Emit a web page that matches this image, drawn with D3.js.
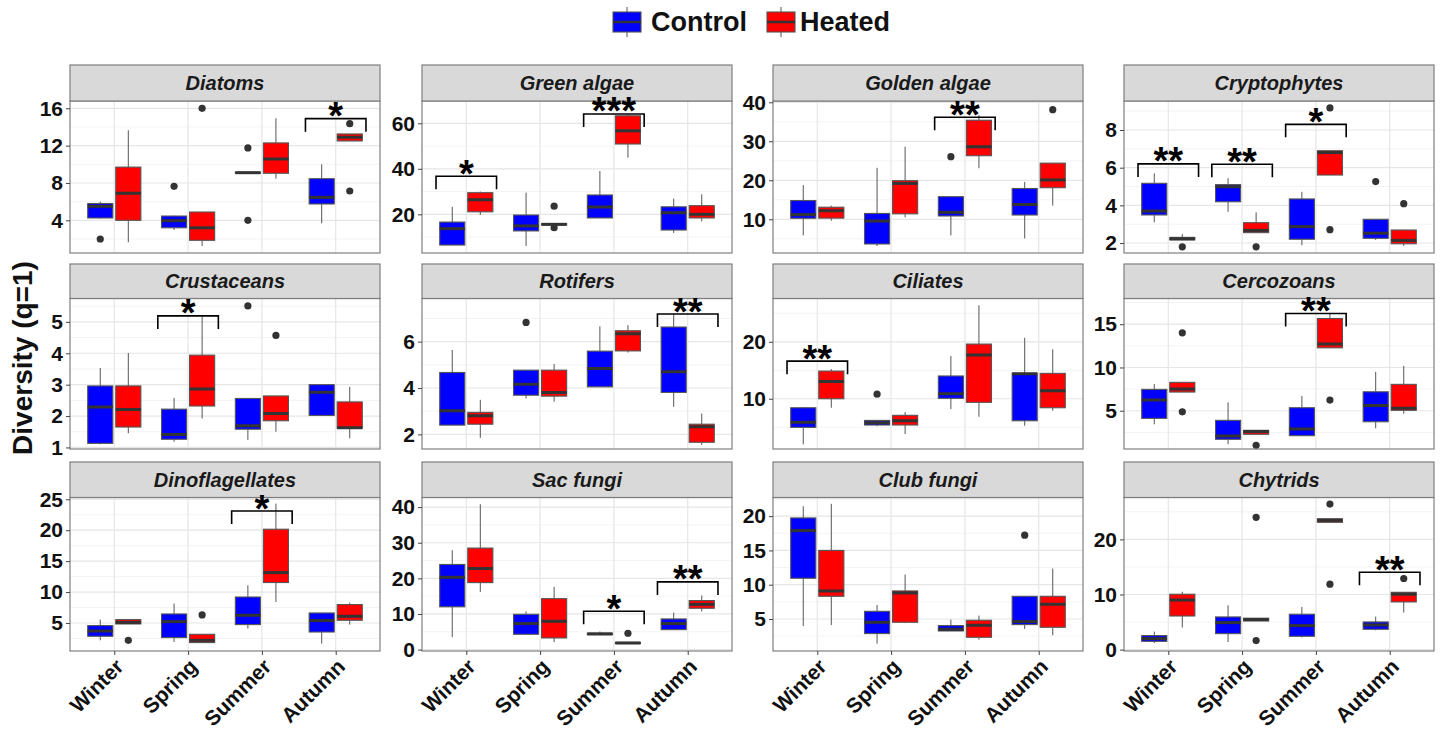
<!DOCTYPE html>
<html><head><meta charset="utf-8">
<script src="https://cdn.jsdelivr.net/npm/d3@7"></script>
<style>
body{margin:0;background:#fff;}
svg{display:block;font-family:"Liberation Sans",Arial,sans-serif;}
</style>
</head><body>
<svg id="c" width="1440" height="730"></svg>
<script>
// ---------------- DATA ----------------
const seasons = ["Winter", "Spring", "Summer", "Autumn"];
const groups = ["Control", "Heated"];
const groupColors = ["#0000ff", "#ff0000"];
const taxa = ["Diatoms", "Green algae", "Golden algae", "Cryptophytes",
  "Crustaceans", "Rotifers", "Ciliates", "Cercozoans",
  "Dinoflagellates", "Sac fungi", "Club fungi", "Chytrids"];

// box stats per taxon, order: Winter C, Winter H, Spring C, Spring H, Summer C, Summer H, Autumn C, Autumn H
// [lower whisker, q1, median, q3, upper whisker]
const diatoms = [[4.2,4.25,5.5,5.8,6.0],[1.65,4.0,6.9,9.7,13.65],[2.96,3.2,3.96,4.46,4.5],[1.25,1.86,3.2,4.89,4.89],[9.05,9.05,9.1,9.15,9.15],[8.46,9.04,10.57,12.29,14.93],[3.68,5.75,6.46,8.46,10.0],[12.5,12.5,12.9,13.25,13.25]];
const greenAlgae = [[6.5,6.5,13.7,16.6,23.3],[19.7,21.1,26.4,29.5,30.0],[6.1,12.7,14.9,19.7,29.5],[15.3,15.3,15.6,15.9,15.9],[18.4,18.4,23.2,28.5,39.0],[44.9,50.9,56.7,63.3,63.8],[11.8,13.1,20.7,23.3,26.9],[16.9,18.4,20.0,23.8,28.8]];
const goldenAlgae = [[5.9,10.26,11.2,14.8,18.8],[9.64,10.3,12.2,13.1,13.5],[3.15,3.67,9.56,11.5,23.2],[10.5,11.4,19.2,19.9,28.6],[5.9,10.85,11.8,15.8,15.8],[23.1,26.3,28.6,35.4,36.7],[5.1,11.1,13.8,17.9,19.6],[13.5,18.1,20.1,24.4,24.4]];
const cryptophytes = [[3.1,3.49,3.7,5.17,5.7],[2.17,2.17,2.22,2.3,2.48],[3.66,4.19,4.99,5.1,5.44],[2.55,2.55,2.67,3.08,3.63],[1.88,2.2,2.87,4.34,4.72],[5.61,5.61,6.8,6.9,6.9],[2.16,2.25,2.52,3.26,3.26],[1.85,1.96,2.14,2.69,2.69]];
const crustaceans = [[1.1,1.13,2.29,2.96,3.53],[1.45,1.65,2.21,2.96,4.01],[1.18,1.26,1.41,2.22,2.58],[1.92,2.32,2.86,3.94,5.16],[1.24,1.58,1.69,2.56,2.56],[1.5,1.85,2.08,2.64,2.64],[2.02,2.02,2.76,3.0,3.0],[1.29,1.61,1.63,2.45,2.93]];
const rotifers = [[2.4,2.4,3.02,4.67,5.64],[1.85,2.44,2.8,2.95,3.49],[3.55,3.69,4.16,4.77,4.77],[3.41,3.65,3.81,4.77,5.03],[4.05,4.05,4.84,5.59,6.66],[5.53,5.6,6.34,6.47,6.71],[3.19,3.81,4.70,6.63,7.2],[1.54,1.66,2.33,2.44,2.9]];
const ciliates = [[2.0,4.98,5.86,8.42,8.5],[8.42,10.0,13.05,14.86,15.2],[5.2,5.39,5.8,6.2,6.2],[3.8,5.39,6.14,7.09,7.67],[8.2,10.07,10.88,14.0,17.5],[6.84,9.37,17.67,19.6,26.4],[5.26,6.14,14.4,14.46,20.7],[7.9,8.42,11.4,14.46,18.67]];
const cercozoans = [[3.43,4.12,6.23,7.47,8.08],[7.16,7.16,7.5,8.28,8.28],[1.12,1.7,2.08,3.89,5.97],[2.28,2.28,2.6,2.74,2.74],[2.12,2.12,2.89,5.35,6.7],[12.27,12.27,12.7,15.66,16.3],[2.97,3.73,5.62,7.19,9.5],[4.65,5.05,5.28,8.05,10.19]];
const dinoflagellates = [[2.2,2.85,3.7,4.58,5.55],[4.84,4.84,5.1,5.55,5.55],[1.93,2.64,5.22,6.46,8.14],[1.83,1.83,2.2,3.17,3.17],[4.1,4.74,6.25,9.2,11.1],[8.4,11.54,13.15,20.16,24.3],[1.67,3.54,5.39,6.62,6.62],[4.74,5.44,6.08,7.98,8.3]];
const sacFungi = [[3.5,12.0,20.3,23.9,27.9],[16.2,18.8,22.75,28.5,40.8],[4.3,4.3,7.3,9.9,10.7],[2.1,3.26,7.95,14.3,17.6],[4.2,4.2,4.4,4.6,5.06],[1.7,1.7,1.85,2.0,2.0],[5.6,5.6,7.3,8.6,10.4],[10.7,11.6,12.7,13.76,15.2]];
const clubFungi = [[3.98,10.94,17.9,19.74,21.45],[4.12,8.31,9.09,15.0,21.8],[1.41,2.87,4.52,6.12,7.04],[4.4,4.52,8.8,9.09,11.48],[3.25,3.25,3.5,4.04,4.9],[1.99,2.33,4.08,4.81,5.5],[3.54,4.18,4.62,8.31,8.31],[2.62,3.79,7.15,8.31,12.36]];
const chytrids = [[1.2,1.5,2.0,2.55,3.27],[4.0,6.1,9.0,10.05,10.5],[1.38,2.9,4.9,5.93,8.05],[5.2,5.2,5.45,5.7,5.7],[2.2,2.42,4.36,6.42,7.75],[23.1,23.1,23.45,23.75,23.75],[3.5,3.69,4.47,5.02,6.0],[6.73,8.65,10.05,10.4,10.4]];

// outliers: [taxon, season, group, value]
const outliers = [
  ["Diatoms","Winter","Control",2.0],["Diatoms","Spring","Control",7.64],["Diatoms","Spring","Heated",16.0],
  ["Diatoms","Summer","Control",11.75],["Diatoms","Summer","Control",4.0],["Diatoms","Autumn","Heated",14.35],["Diatoms","Autumn","Heated",7.14],
  ["Green algae","Spring","Heated",23.6],["Green algae","Spring","Heated",14.1],
  ["Golden algae","Summer","Control",26.05],["Golden algae","Autumn","Heated",38.1],
  ["Cryptophytes","Winter","Heated",1.8],["Cryptophytes","Spring","Heated",1.8],["Cryptophytes","Summer","Heated",9.17],
  ["Cryptophytes","Summer","Heated",2.71],["Cryptophytes","Autumn","Control",5.26],["Cryptophytes","Autumn","Heated",4.09],
  ["Crustaceans","Summer","Control",5.51],["Crustaceans","Summer","Heated",4.57],
  ["Rotifers","Spring","Control",6.83],
  ["Ciliates","Spring","Control",10.8],
  ["Cercozoans","Winter","Heated",14.0],["Cercozoans","Winter","Heated",4.88],["Cercozoans","Spring","Heated",1.0],["Cercozoans","Summer","Heated",6.23],
  ["Dinoflagellates","Winter","Heated",2.2],["Dinoflagellates","Spring","Heated",6.3],
  ["Sac fungi","Summer","Heated",4.58],
  ["Club fungi","Autumn","Control",17.22],
  ["Chytrids","Spring","Heated",24.0],["Chytrids","Spring","Heated",1.64],["Chytrids","Summer","Heated",26.4],
  ["Chytrids","Summer","Heated",11.87],["Chytrids","Autumn","Heated",12.9]
];

// significance: [taxon, season, label, bracket level]
const signif = [
  ["Diatoms","Autumn","*",14.89],
  ["Green algae","Winter","*",36.7],["Green algae","Summer","***",64.1],
  ["Golden algae","Summer","**",36.15],
  ["Cryptophytes","Winter","**",6.2],["Cryptophytes","Spring","**",6.18],["Cryptophytes","Summer","*",8.3],
  ["Crustaceans","Spring","*",5.19],
  ["Rotifers","Autumn","**",7.19],
  ["Ciliates","Winter","**",16.6],
  ["Cercozoans","Summer","**",16.23],
  ["Dinoflagellates","Summer","*",23.1],
  ["Sac fungi","Summer","*",10.76],["Sac fungi","Autumn","**",19.0],
  ["Chytrids","Autumn","**",14.05]
];

const yDomains = [[0.5,16.78],[3.0,69.8],[1.36,40.33],[1.47,9.54],
  [0.95,5.745],[1.37,7.86],[1.18,27.6],[0.58,17.97],
  [0.47,25.29],[-0.4,42.7],[0.33,22.72],[-0.25,27.6]];
const yTicks = [[4,8,12,16],[20,40,60],[10,20,30,40],[2,4,6,8],
  [1,2,3,4,5],[2,4,6],[10,20],[5,10,15],
  [5,10,15,20,25],[0,10,20,30,40],[5,10,15,20],[0,10,20]];
const boxStats = [diatoms, greenAlgae, goldenAlgae, cryptophytes, crustaceans, rotifers,
  ciliates, cercozoans, dinoflagellates, sacFungi, clubFungi, chytrids];

// ---------------- LAYOUT ----------------
const colX = [70, 422, 773, 1124];
const panelW = 310;
const stripTop = [65, 264, 462];
const plotTop = [101, 298.5, 497.5];
const plotBottom = [253, 449, 651];
const FONT = '"Liberation Sans", Arial, sans-serif';

const svg = d3.select("#c");
const defs = svg.append("defs");
const panelsLayer = svg.append("g");
const annotLayer = svg.append("g");

taxa.forEach((name, i) => {
  const col = i % 4, row = Math.floor(i / 4);
  const x0 = colX[col], x1 = x0 + panelW, top = plotTop[row], bot = plotBottom[row];
  const x = d3.scalePoint().domain(seasons).range([x0, x1]).padding(0.6);
  const step = x.step();
  const y = d3.scaleLinear().domain(yDomains[i]).range([bot, top]);
  const g = panelsLayer.append("g");

  defs.append("clipPath").attr("id", "clip" + i)
    .append("rect").attr("x", x0).attr("y", top).attr("width", panelW).attr("height", bot - top);

  g.append("rect").attr("x", x0).attr("y", top).attr("width", panelW).attr("height", bot - top).attr("fill", "#fff");

  // grid
  const ticks = yTicks[i];
  const d = ticks[1] - ticks[0];
  const dom = yDomains[i];
  const minor = [];
  for (let v = ticks[0] - d / 2; v <= dom[1]; v += d) if (v >= dom[0]) minor.push(v);
  const grid = g.append("g").attr("clip-path", `url(#clip${i})`);
  grid.selectAll(".mn").data(minor).join("line")
    .attr("x1", x0).attr("x2", x1).attr("y1", v => y(v)).attr("y2", v => y(v))
    .attr("stroke", "#f0f0f0").attr("stroke-width", 0.8);
  grid.selectAll(".mj").data(ticks).join("line")
    .attr("x1", x0).attr("x2", x1).attr("y1", v => y(v)).attr("y2", v => y(v))
    .attr("stroke", "#e6e6e6").attr("stroke-width", 1.2);
  grid.selectAll(".vx").data(seasons).join("line")
    .attr("x1", s => x(s)).attr("x2", s => x(s)).attr("y1", top).attr("y2", bot)
    .attr("stroke", "#e6e6e6").attr("stroke-width", 1.2);

  // boxes
  const off = 0.19 * step, bw = 0.34 * step;
  const rows = [];
  seasons.forEach((s, si) => groups.forEach((gr, gi) => {
    const st = boxStats[i][si * 2 + gi];
    rows.push({ s, gr, gi, lo: st[0], q1: st[1], med: st[2], q3: st[3], hi: st[4], cx: x(s) + (gi ? off : -off) });
  }));
  const bg = g.append("g").attr("clip-path", `url(#clip${i})`);
  bg.selectAll(".wl").data(rows).join("line")
    .attr("x1", r => r.cx).attr("x2", r => r.cx).attr("y1", r => y(r.lo)).attr("y2", r => y(r.q1))
    .attr("stroke", "#555").attr("stroke-width", 1);
  bg.selectAll(".wh").data(rows).join("line")
    .attr("x1", r => r.cx).attr("x2", r => r.cx).attr("y1", r => y(r.hi)).attr("y2", r => y(r.q3))
    .attr("stroke", "#555").attr("stroke-width", 1);
  bg.selectAll(".bx").data(rows).join("rect")
    .attr("x", r => r.cx - bw / 2).attr("y", r => y(r.q3)).attr("width", bw)
    .attr("height", r => Math.max(0.5, y(r.q1) - y(r.q3)))
    .attr("fill", r => groupColors[r.gi]).attr("stroke", "#555").attr("stroke-width", 1.1);
  bg.selectAll(".md").data(rows).join("line")
    .attr("x1", r => r.cx - bw / 2).attr("x2", r => r.cx + bw / 2).attr("y1", r => y(r.med)).attr("y2", r => y(r.med))
    .attr("stroke", "#333").attr("stroke-width", 3);
  const outs = outliers.filter(o => o[0] === name);
  bg.selectAll(".ol").data(outs).join("circle")
    .attr("cx", o => x(o[1]) + (o[2] === "Heated" ? off : -off)).attr("cy", o => y(o[3]))
    .attr("r", 3.6).attr("fill", "#333");

  // border
  g.append("rect").attr("x", x0).attr("y", top).attr("width", panelW).attr("height", bot - top)
    .attr("fill", "none").attr("stroke", "#7f7f7f").attr("stroke-width", 1.2);

  // strip
  g.append("rect").attr("x", x0).attr("y", stripTop[row]).attr("width", panelW).attr("height", top - stripTop[row])
    .attr("fill", "#d9d9d9").attr("stroke", "#7f7f7f").attr("stroke-width", 1.2);
  g.append("text").attr("x", (x0 + x1) / 2).attr("y", (stripTop[row] + top) / 2 + 7)
    .attr("text-anchor", "middle").attr("font-family", FONT).attr("font-weight", "bold")
    .attr("font-style", "italic").attr("font-size", 20).attr("fill", "#1a1a1a").text(name);

  // significance brackets (top layer)
  const sig = signif.filter(o => o[0] === name);
  const half = 0.41 * step;
  sig.forEach(o => {
    const cx = x(o[1]), yy = y(o[3]);
    annotLayer.append("path")
      .attr("d", `M${cx - half},${yy + 13}V${yy}H${cx + half}V${yy + 13}`)
      .attr("fill", "none").attr("stroke", "#000").attr("stroke-width", 1.6);
    annotLayer.append("text").attr("x", cx).attr("y", yy + 10.5).attr("text-anchor", "middle")
      .attr("font-family", FONT).attr("font-weight", "bold").attr("font-size", 38).attr("fill", "#000")
      .text(o[2]);
  });

  // y axis
  const ya = g.append("g").attr("transform", `translate(${x0},0)`)
    .call(d3.axisLeft(y).tickValues(ticks).tickSize(4).tickPadding(3).tickFormat(d3.format("d")));
  ya.select(".domain").remove();
  ya.selectAll(".tick line").attr("stroke", "#444");
  ya.selectAll(".tick text").attr("font-family", FONT).attr("font-weight", "bold")
    .attr("font-size", 21).attr("fill", "#111");

  // x axis (bottom row only)
  if (row === 2) {
    const xa = g.append("g").attr("transform", `translate(0,${bot})`)
      .call(d3.axisBottom(x).tickSize(4).tickPadding(2));
    xa.select(".domain").remove();
    xa.selectAll(".tick line").attr("stroke", "#444");
    xa.selectAll(".tick text").attr("font-family", FONT).attr("font-weight", "bold")
      .attr("font-size", 21).attr("fill", "#111")
      .attr("text-anchor", "end").attr("dy", null)
      .attr("transform", "translate(10,17) rotate(-45)").attr("y", 0).attr("x", 0);
  }
});

// y title
svg.append("text").attr("transform", "translate(32,358) rotate(-90)")
  .attr("text-anchor", "middle").attr("font-family", FONT).attr("font-weight", "bold")
  .attr("font-size", 28).attr("fill", "#111").text("Diversity (q=1)");

// legend
const legX = [613, 767], legTxtX = [651, 800];
groups.forEach((gname, gi) => {
  const lg = svg.append("g");
  const cx = legX[gi] + 14;
  lg.append("line").attr("x1", cx).attr("x2", cx).attr("y1", 7).attr("y2", 37).attr("stroke", "#555").attr("stroke-width", 1);
  lg.append("rect").attr("x", legX[gi]).attr("y", 12).attr("width", 28).attr("height", 20)
    .attr("fill", groupColors[gi]).attr("stroke", "#555").attr("stroke-width", 1.1);
  lg.append("line").attr("x1", legX[gi]).attr("x2", legX[gi] + 28).attr("y1", 22).attr("y2", 22)
    .attr("stroke", "#333").attr("stroke-width", 2.5);
  lg.append("text").attr("x", legTxtX[gi]).attr("y", 31).attr("font-family", FONT)
    .attr("font-weight", "bold").attr("font-size", 27).attr("fill", "#111").text(gname);
});
</script>
</body></html>
